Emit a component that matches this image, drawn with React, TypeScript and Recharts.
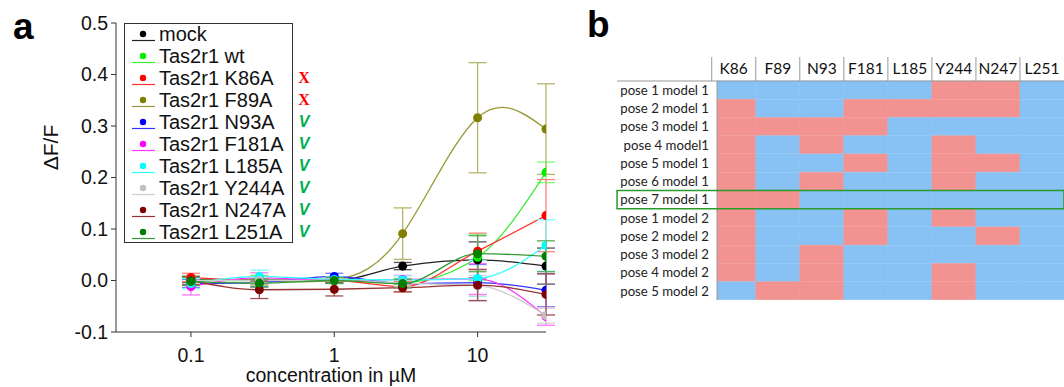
import React from 'react';
import {
  LineChart, Line, XAxis, YAxis, ErrorBar, Legend,
  BarChart, Bar, Cell, ReferenceArea, ReferenceLine,
} from 'recharts';

// ---------- panel a data ----------
const concentrations = [0.1, 0.3, 1, 3, 10, 30];
const seriesKeys = ['mock', 'wt', 'k86', 'f89', 'n93', 'f181', 'l185', 'y244', 'n247', 'l251'];
const seriesNames = ['mock', 'Tas2r1 wt', 'Tas2r1 K86A', 'Tas2r1 F89A', 'Tas2r1 N93A', 'Tas2r1 F181A', 'Tas2r1 L185A', 'Tas2r1 Y244A', 'Tas2r1 N247A', 'Tas2r1 L251A'];
const verdicts = ['', '', 'X', 'X', 'V', 'V', 'V', 'V', 'V', 'V'];
const dotColors = ['#000000', '#00ee00', '#ff0000', '#808000', '#0000ff', '#ff00ff', '#00ffff', '#c0c0c0', '#800000', '#008000'];
const lineColors = ['#222222', '#33ee33', '#ff3333', '#999933', '#3333ff', '#ff33ff', '#33ffff', '#cccccc', '#993333', '#339933'];
const barColors = ['#555555', '#77ff77', '#ff8080', '#b5b56a', '#7777ff', '#ff77ff', '#77ffff', '#d5d5d5', '#a05050', '#55aa55'];

const mock = [0.002, 0.001, 0.0, 0.028, 0.04, 0.028];
const mockErr = [0.006, 0.006, 0.005, 0.007, 0.035, 0.035];
const wt = [0.0, 0.0, 0.0, -0.004, 0.045, 0.21];
const wtErr = [0.008, 0.01, 0.005, 0.008, 0.045, 0.02];
const k86 = [0.006, 0.0, 0.0, -0.012, 0.057, 0.126];
const k86Err = [0.008, 0.008, 0.005, 0.01, 0.035, 0.07];
const f89 = [0.0, 0.0, 0.001, 0.091, 0.316, 0.294];
const f89Err = [0.006, 0.006, 0.005, 0.05, 0.107, 0.088];
const n93 = [-0.006, -0.004, 0.008, -0.006, -0.004, -0.019];
const n93Err = [0.008, 0.008, 0.006, 0.008, 0.035, 0.032];
const f181 = [-0.012, 0.005, 0.0, 0.002, 0.003, -0.07];
const f181Err = [0.016, 0.01, 0.005, 0.008, 0.03, 0.017];
const l185 = [-0.006, 0.008, 0.002, 0.001, 0.004, 0.068];
const l185Err = [0.01, 0.012, 0.005, 0.008, 0.035, 0.05];
const y244 = [0.0, 0.0, 0.0, -0.005, -0.01, -0.068];
const y244Err = [0.006, 0.006, 0.005, 0.006, 0.02, 0.015];
const n247 = [0.0, -0.018, -0.017, -0.014, -0.009, -0.027];
const n247Err = [0.008, 0.017, 0.013, 0.008, 0.03, 0.04];
const l251 = [-0.002, -0.005, 0.0, -0.006, 0.052, 0.047];
const l251Err = [0.008, 0.008, 0.006, 0.008, 0.035, 0.03];

const xTicks = [0.1, 1, 10];
const yTicks = [-0.1, 0, 0.1, 0.2, 0.3, 0.4, 0.5];

// ---------- panel b data ----------
const residues = ['K86', 'F89', 'N93', 'F181', 'L185', 'Y244', 'N247', 'L251'];
const poses = [
  'pose 1 model 1', 'pose 2 model 1', 'pose 3 model 1', 'pose 4 model1', 'pose 5 model 1', 'pose 6 model 1',
  'pose 7 model 1', 'pose 1 model 2', 'pose 2 model 2', 'pose 3 model 2', 'pose 4 model 2', 'pose 5 model 2',
];
const contactRows = [
  [0, 0, 0, 0, 0, 1, 1, 0],
  [1, 0, 0, 1, 1, 1, 1, 0],
  [1, 1, 1, 1, 0, 0, 0, 0],
  [1, 0, 1, 0, 0, 1, 0, 0],
  [1, 0, 0, 1, 0, 1, 1, 0],
  [1, 0, 1, 0, 0, 1, 0, 0],
  [1, 1, 0, 0, 0, 0, 0, 0],
  [1, 0, 0, 1, 0, 1, 0, 0],
  [1, 0, 0, 1, 0, 0, 1, 0],
  [1, 0, 1, 0, 0, 0, 0, 0],
  [1, 0, 1, 0, 0, 1, 0, 0],
  [0, 1, 1, 0, 0, 1, 0, 0],
];
const highlightedPose = 'pose 7 model 1';

const RED = '#f29391';
const BLUE = '#88c2f4';
const SANS = '"Liberation Sans", Arial, sans-serif';
const CAL = 'Lato, "Open Sans", sans-serif';

const means = [mock, wt, k86, f89, n93, f181, l185, y244, n247, l251];
const errs = [mockErr, wtErr, k86Err, f89Err, n93Err, f181Err, l185Err, y244Err, n247Err, l251Err];

const lineData = concentrations.map((c, i) => {
  const row: any = { conc: c };
  seriesKeys.forEach((k, s) => {
    row[k] = means[s][i];
    row[k + 'Err'] = errs[s][i];
  });
  return row;
});

const heatData = poses.map((p) => {
  const row: any = { pose: p };
  residues.forEach((_, c) => { row['c' + c] = 1; });
  return row;
});

const LegendBox = () => (
  <div style={{ position: 'relative', width: 169, height: 220, border: '1px solid #333', boxSizing: 'border-box', background: '#fff', fontFamily: SANS, fontSize: 20, color: '#111' }}>
    {seriesNames.map((n, s) => (
      <div key={n} style={{ position: 'absolute', left: 0, top: -1 + s * 22, height: 22, width: '100%' }}>
        <svg width={32} height={22} style={{ position: 'absolute', left: 5, top: 0 }}>
          <circle cx={13} cy={11} r={3.2} fill={dotColors[s]} />
          <line x1={2} x2={25} y1={17.5} y2={17.5} stroke={lineColors[s]} strokeWidth={1.2} />
        </svg>
        <span style={{ position: 'absolute', left: 34, top: 0, lineHeight: '22px', whiteSpace: 'nowrap' }}>{n}</span>
        {verdicts[s] === 'X' && (
          <span style={{ position: 'absolute', left: 172, top: 0, width: 14, textAlign: 'center', lineHeight: '22px', fontFamily: '"Liberation Serif", serif', fontWeight: 'bold', fontSize: 16, color: '#ff0000' }}>X</span>
        )}
        {verdicts[s] === 'V' && (
          <span style={{ position: 'absolute', left: 172, top: 0, width: 14, textAlign: 'center', lineHeight: '22px', fontFamily: SANS, fontStyle: 'italic', fontWeight: 'bold', fontSize: 16, color: '#00b050' }}>V</span>
        )}
      </div>
    ))}
  </div>
);

const YLabel = (props: any) => {
  const vb = props.viewBox || { x: 0, y: 23, width: 116, height: 309 };
  const cx = vb.x + 50;
  const cy = vb.y + vb.height / 2 - 30;
  return (
    <text x={cx} y={cy} transform={`rotate(-90 ${cx} ${cy})`} textAnchor="middle" dominantBaseline="central" fontFamily={SANS} fontSize={21} fill="#111">ΔF/F</text>
  );
};

const HeaderTick = (props: any) => {
  const { x, y, payload } = props;
  const label = residues[Math.floor(payload.value)];
  return (
    <g>
      <line x1={x - 22} x2={x - 22} y1={y - 24} y2={y} stroke="#999" strokeWidth={1} />
      <text x={x} y={y - 7} textAnchor="middle" fontFamily={CAL} fontSize={15.5} fill="#111">{label}</text>
    </g>
  );
};

export default function App() {
  return (
    <div style={{ position: 'absolute', left: 0, top: 0, width: 1064, height: 387, background: '#fff', overflow: 'hidden' }}>
      <div style={{ position: 'absolute', left: 13, top: 6, fontFamily: SANS, fontWeight: 'bold', fontSize: 37, lineHeight: 'normal', color: '#000' }}>a</div>
      <div style={{ position: 'absolute', left: 587, top: 4, fontFamily: SANS, fontWeight: 'bold', fontSize: 37, lineHeight: 'normal', color: '#000' }}>b</div>

      <div style={{ position: 'absolute', left: 0, top: 0 }}>
        <LineChart width={600} height={387} data={lineData} margin={{ top: 23, right: 54, bottom: 0, left: 0 }}>
          <XAxis
            type="number" dataKey="conc" scale="log" domain={[0.03, 30]} allowDataOverflow
            ticks={xTicks} tickFormatter={(v: number) => String(v)}
            stroke="#333" tickSize={5} tickMargin={11} height={55}
            tick={{ fontFamily: SANS, fontSize: 19.5, fill: '#111' }}
            label={{ value: 'concentration in µM', position: 'insideBottom', offset: 5, style: { fontFamily: SANS, fontSize: 19.5, fill: '#111' } }}
          />
          <YAxis
            type="number" domain={[-0.1, 0.5]} ticks={yTicks} allowDataOverflow
            tickFormatter={(v: number) => v.toFixed(1)}
            stroke="#333" tickSize={5} tickMargin={3} width={116}
            tick={{ fontFamily: SANS, fontSize: 19.5, fill: '#111' }}
            label={YLabel}
          />
          <Legend layout="vertical" align="center" verticalAlign="middle" content={() => <LegendBox />} wrapperStyle={{ left: 124, top: 23, width: 200 }} />
          {seriesKeys.map((k, s) => (
            <Line
              key={k} dataKey={k} name={seriesNames[s]}
              type={k === 'f89' ? 'natural' : 'monotone'}
              stroke={lineColors[s]} strokeWidth={1.3}
              dot={{ r: 4.5, fill: dotColors[s], stroke: dotColors[s], strokeWidth: 0 }}
              activeDot={false} isAnimationActive={false}
            >
              <ErrorBar dataKey={k + 'Err'} width={9} stroke={barColors[s]} strokeWidth={1.3} direction="y" />
            </Line>
          ))}
        </LineChart>
      </div>

      <div style={{ position: 'absolute', left: 612, top: 40 }}>
        <BarChart width={452} height={260} data={heatData} layout="vertical" margin={{ top: 0, right: 0, bottom: 0, left: 0 }} barCategoryGap={0} barGap={0}>
          <XAxis
            type="number" orientation="top" domain={[0.12, 8]} allowDataOverflow
            ticks={[0.5, 1.5, 2.5, 3.5, 4.5, 5.5, 6.5, 7.5]} interval={0}
            axisLine={false} tickLine={false} tickSize={0} tickMargin={0} height={41}
            tick={<HeaderTick />}
          />
          <YAxis
            type="category" dataKey="pose" width={105} interval={0}
            axisLine={{ stroke: '#999' }} tickLine={false}
            tick={{ fontFamily: CAL, fontSize: 13.2, fill: '#222' }}
          />
          {residues.map((r, c) => (
            <Bar key={r} dataKey={'c' + c} stackId="s" isAnimationActive={false}>
              {poses.map((p, i) => (
                <Cell key={p} fill={contactRows[i][c] ? RED : BLUE} stroke={contactRows[i][c] ? RED : BLUE} strokeWidth={0.5} />
              ))}
            </Bar>
          ))}
          <ReferenceLine
            segment={[{ x: -2.15, y: poses[0] }, { x: 8, y: poses[0] }]}
            position="start" ifOverflow="visible" stroke="#999" strokeWidth={1}
            {...({ zIndex: 2000 } as any)}
          />
          <ReferenceArea
            x1={-2.15} x2={8} y1={highlightedPose} y2={highlightedPose}
            ifOverflow="visible" fill="none" fillOpacity={0} stroke="#2a9a2a" strokeWidth={1.5}
            {...({ zIndex: 2000 } as any)}
          />
        </BarChart>
      </div>
    </div>
  );
}
